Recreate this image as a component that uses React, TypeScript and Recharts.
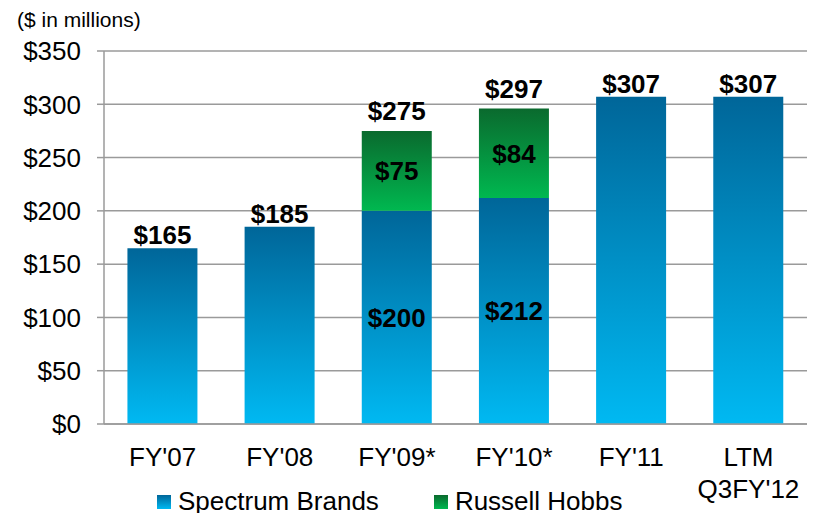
import React from 'react';
import {
  BarChart, Bar, XAxis, YAxis, CartesianGrid, LabelList, Legend
} from 'recharts';

const categories = ["FY'07", "FY'08", "FY'09*", "FY'10*", "FY'11", "LTM\nQ3FY'12"];
const spectrum = [165, 185, 200, 212, 307, 307];
const russell = [0, 0, 75, 84, 0, 0];
const totals = [165, 185, 275, 297, 307, 307];
const yTicks = [0, 50, 100, 150, 200, 250, 300, 350];
const boundaryTicks = [0, 1, 2, 3, 4, 5, 6];

const series = [
  { key: 'spectrum', name: 'Spectrum Brands', grad: 'gBlue' },
  { key: 'russell', name: 'Russell Hobbs', grad: 'gGreen' },
];

const data = categories.map((cat, i) => ({
  cat,
  spectrum: spectrum[i],
  russell: russell[i],
  spectrumIn: russell[i] > 0 ? spectrum[i] : null,
  russellIn: russell[i] > 0 ? russell[i] : null,
  // total label sits on whichever segment is on top
  totalOnS: russell[i] > 0 ? null : totals[i],
  totalOnR: russell[i] > 0 ? totals[i] : null,
}));

const FONT = '"Liberation Sans", Arial, sans-serif';
const GRID = '#9a9a9a';
const labelStyle = { fontSize: 26, fontWeight: 'bold', fill: '#000', fontFamily: FONT };

const money = (v: any) => (v === null || v === undefined ? '' : `$${v}`);

const CatTick = (props: any) => {
  const { x, y, payload } = props;
  const lines = String(payload.value).split('\n');
  return (
    <text x={x} y={y} textAnchor="middle" fontSize={26} fill="#000" fontFamily={FONT}>
      {lines.map((l, i) => (
        <tspan key={i} x={x} y={y + 42 + i * 32}>{l}</tspan>
      ))}
    </text>
  );
};

const LegendBox = () => (
  <div style={{ display: 'flex', alignItems: 'center', fontFamily: FONT, fontSize: 26, color: '#000', whiteSpace: 'nowrap' }}>
    {series.map((s, i) => (
      <div key={s.key} style={{ display: 'flex', alignItems: 'center', marginRight: i === 0 ? 55 : 0 }}>
        <svg width={14} height={14} style={{ marginRight: 7 }}>
          <rect width={14} height={14} fill={`url(#${s.grad})`} />
        </svg>
        <span>{s.name}</span>
      </div>
    ))}
  </div>
);

const App = () => {
  return (
    <div style={{ position: 'absolute', left: 0, top: 0, width: 816, height: 513, background: '#fff' }}>
      <div style={{ position: 'absolute', left: 17, top: 9, fontFamily: FONT, fontSize: 21, lineHeight: '21px', color: '#000' }}>
        ($ in millions)
      </div>
      <BarChart
        width={816}
        height={513}
        data={data}
        margin={{ top: 51, right: 9, bottom: 87, left: 0 }}
        barCategoryGap="20%"
      >
        <defs>
          <linearGradient id="gBlue" x1="0" y1="0" x2="0" y2="1">
            <stop offset="0%" stopColor="#006699" />
            <stop offset="100%" stopColor="#00b9f2" />
          </linearGradient>
          <linearGradient id="gGreen" x1="0" y1="0" x2="0" y2="1">
            <stop offset="0%" stopColor="#0a6a2e" />
            <stop offset="100%" stopColor="#00b850" />
          </linearGradient>
        </defs>
        <CartesianGrid vertical={false} stroke={GRID} strokeWidth={1.5} />
        <XAxis
          dataKey="cat"
          interval={0}
          tick={<CatTick />}
          tickLine={false}
          tickSize={0}
          tickMargin={0}
          height={1}
          axisLine={{ stroke: GRID, strokeWidth: 1.5 }}
        />
        <XAxis
          xAxisId="b"
          type="number"
          domain={[0, 6]}
          ticks={boundaryTicks}
          tick={false}
          tickSize={8}
          height={1}
          axisLine={false}
          tickLine={{ stroke: GRID, strokeWidth: 1.5 }}
        />
        <YAxis
          domain={[0, 350]}
          ticks={yTicks}
          width={104}
          tickFormatter={money}
          tickSize={7}
          tickMargin={16}
          tick={{ fontSize: 26, fill: '#000', fontFamily: FONT }}
          tickLine={{ stroke: GRID, strokeWidth: 1.5 }}
          axisLine={{ stroke: GRID, strokeWidth: 1.5 }}
        />
        <Legend
          layout="vertical"
          align="center"
          verticalAlign="middle"
          wrapperStyle={{ left: 157, top: 486, width: 'auto', bottom: 'auto' }}
          content={<LegendBox />}
        />
        <Bar dataKey="spectrum" stackId="a" fill="url(#gBlue)" isAnimationActive={false} name="Spectrum Brands">
          <LabelList dataKey="spectrumIn" position="center" formatter={money} style={labelStyle} />
          <LabelList dataKey="totalOnS" position="top" offset={4} formatter={money} style={labelStyle} />
        </Bar>
        <Bar dataKey="russell" stackId="a" fill="url(#gGreen)" isAnimationActive={false} name="Russell Hobbs">
          <LabelList dataKey="russellIn" position="center" formatter={money} style={labelStyle} />
          <LabelList dataKey="totalOnR" position="top" offset={11} formatter={money} style={labelStyle} />
        </Bar>
      </BarChart>
    </div>
  );
};

export default App;
